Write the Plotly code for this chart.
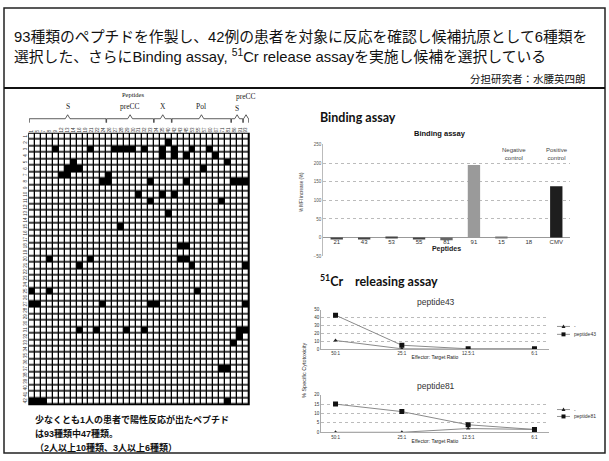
import plotly.graph_objects as go

W, H = 609, 461
def fx(x): return x / W
def fy(y): return 1 - y / H

JP = "Liberation Sans, Noto Sans CJK JP"
SANS = "Liberation Sans"

# ---------------- data ----------------
n_patients = 42
peptide_labels = ["1", "5", "7", "8", "9", "12", "13", "14", "16", "19", "21", "22", "24",
                  "26", "27", "28", "29", "30", "31", "32", "33", "34", "35",
                  "40", "42", "43", "45", "53", "55", "57", "60", "67", "71", "81",
                  "86", "91", "93"]
# patient (1-based) -> positive peptide columns (0-based)
positives = {
    2: [23],
    3: [4, 10, 14, 15, 16, 17, 19, 22, 24, 27, 30],
    4: [22, 24, 26, 31],
    5: [7, 33],
    6: [6, 7, 8, 29],
    7: [5, 6, 13],
    8: [12, 13, 20, 26, 34, 35, 36],
    10: [18, 22, 24],
    11: [20, 32],
    13: [23],
    15: [15],
    18: [25, 26],
    20: [3, 10, 25, 26],
    21: [8, 27, 36],
    25: [0, 3, 28],
    27: [0, 1, 12, 20, 21, 36],
    31: [8, 11, 16, 19, 35, 36],
    32: [35],
    33: [34],
    37: [32, 33],
    42: [0, 1, 2, 33],
}
groups = [("S", 0, 12), ("preCC", 13, 20), ("X", 21, 23), ("Pol", 24, 33), ("S", 34, 35), ("preCC", 36, 36)]

bar_peptides = ["21", "43", "53", "55", "81", "91", "15", "18", "CMV"]
bar_values = [-3, -3, 3, -3, -7, 195, 2, 0, 138]
bar_colors = ["#444", "#444", "#444", "#444", "#666", "#9a9a9a", "#777", "#777", "#1e1e1e"]

ratios = ["50:1", "25:1", "12.5:1", "6:1"]
p43_ctrl = [11, 0.5, 0, 0]
p43_pep = [43, 5, 0.5, 0.5]
p81_ctrl = [0, 0, 2, 1.5]
p81_pep = [15, 11, 4, 1.5]
legend43 = ["-", "peptide43"]
legend81 = ["-", "peptide81"]

# ---------------- build ----------------
z = [[0] * len(peptide_labels) for _ in range(n_patients)]
for r, cols in positives.items():
    for c in cols:
        z[r - 1][c] = 1

fig = go.Figure()

fig.add_trace(go.Heatmap(
    z=z, x=list(range(len(peptide_labels))), y=list(range(1, n_patients + 1)),
    colorscale=[[0, "white"], [1, "black"]], zmin=0, zmax=1, showscale=False,
    xgap=1.3, ygap=1.5, xaxis="x", yaxis="y", hoverinfo="skip"))

fig.add_trace(go.Bar(
    x=bar_peptides, y=bar_values, marker=dict(color=bar_colors, line=dict(width=0)),
    width=0.45, xaxis="x2", yaxis="y2", showlegend=False))

line_style = dict(color="#8a8a8a", width=1)
ctrl_marker = dict(symbol="triangle-up", size=4, color="#222")
pep_marker = dict(symbol="square", size=5, color="#111")
fig.add_trace(go.Scatter(x=ratios, y=p43_ctrl, name=legend43[0], mode="lines+markers",
                         line=line_style, marker=ctrl_marker, xaxis="x3", yaxis="y3", showlegend=False))
fig.add_trace(go.Scatter(x=ratios, y=p43_pep, name=legend43[1], mode="lines+markers",
                         line=line_style, marker=pep_marker, xaxis="x3", yaxis="y3", showlegend=False))
fig.add_trace(go.Scatter(x=ratios, y=p81_ctrl, name=legend81[0], mode="lines+markers",
                         line=line_style, marker=ctrl_marker, xaxis="x4", yaxis="y4", showlegend=False))
fig.add_trace(go.Scatter(x=ratios, y=p81_pep, name=legend81[1], mode="lines+markers",
                         line=line_style, marker=pep_marker, xaxis="x4", yaxis="y4", showlegend=False))

ncol = len(peptide_labels)
hm_dom_x = [fx(29), fx(249)]
hm_dom_y = [fy(407), fy(133)]

fig.update_layout(
    width=W, height=H, margin=dict(l=0, r=0, t=0, b=0),
    paper_bgcolor="white", plot_bgcolor="white", showlegend=False,
    font=dict(family=SANS, color="#222"),
    xaxis=dict(domain=hm_dom_x, anchor="y", side="top", range=[-0.5, ncol - 0.5],
               tickmode="array", tickvals=list(range(ncol)), ticktext=peptide_labels,
               tickfont=dict(size=4.5, family=SANS, color="#333"), tickangle=-90,
               ticks="", showgrid=False, zeroline=False, showline=False),
    yaxis=dict(domain=hm_dom_y, anchor="x", range=[n_patients + 0.5, 0.5],
               tickmode="array", tickvals=list(range(1, n_patients + 1)),
               tickfont=dict(size=4.5, family=SANS, color="#333"), tickangle=-90,
               ticks="", showgrid=False, zeroline=False, showline=False),
    xaxis2=dict(domain=[fx(323), fx(570)], anchor="free", position=fy(238),
                type="category", tickfont=dict(size=6, family=SANS, color="#333"),
                ticks="", showgrid=False, showline=False,
                title=dict(text="<b>Peptides</b>", font=dict(size=7, family=SANS), standoff=1)),
    yaxis2=dict(domain=[fy(257), fy(144)], anchor="x2", range=[-50, 250], dtick=50,
                tickfont=dict(size=4.5, family=SANS, color="#555"),
                showgrid=True, gridcolor="#bbb", griddash="dot", gridwidth=0.7,
                zeroline=True, zerolinecolor="#999", zerolinewidth=0.8,
                showline=True, linecolor="#bbb", linewidth=0.7),
    xaxis3=dict(domain=[fx(321), fx(549)], anchor="y3", type="category",
                tickfont=dict(size=4.5, family=SANS, color="#333"), ticks="",
                showgrid=False, showline=True, linecolor="#aaa", linewidth=0.7,
                title=dict(text="Effector: Target Ratio", font=dict(size=5, family=SANS), standoff=0)),
    yaxis3=dict(domain=[fy(351), fy(311)], anchor="x3", range=[0, 50], dtick=10,
                tickfont=dict(size=4.5, family=SANS, color="#333"),
                showgrid=True, gridcolor="#bbb", griddash="dot", gridwidth=0.7,
                zeroline=False, showline=True, linecolor="#aaa", linewidth=0.7),
    xaxis4=dict(domain=[fx(321), fx(549)], anchor="y4", type="category",
                tickfont=dict(size=4.5, family=SANS, color="#333"), ticks="",
                showgrid=False, showline=True, linecolor="#aaa", linewidth=0.7,
                title=dict(text="Effector: Target Ratio", font=dict(size=5, family=SANS), standoff=0)),
    yaxis4=dict(domain=[fy(435), fy(397)], anchor="x4", range=[0, 20], dtick=5,
                tickfont=dict(size=4.5, family=SANS, color="#333"),
                showgrid=True, gridcolor="#bbb", griddash="dot", gridwidth=0.7,
                zeroline=False, showline=True, linecolor="#aaa", linewidth=0.7),
    bargap=0.5,
)

shapes = []
# black grid background under the heatmap
shapes.append(dict(type="rect", xref="x domain", yref="y domain", x0=0, x1=1, y0=0, y1=1,
                   fillcolor="black", line=dict(color="black", width=1.5), layer="below"))
# slide frame and title rule
shapes.append(dict(type="rect", xref="paper", yref="paper", x0=fx(4), x1=fx(605), y0=fy(456), y1=fy(6),
                   line=dict(color="#222", width=1.5)))
shapes.append(dict(type="line", xref="paper", yref="paper", x0=fx(4), x1=fx(605), y0=fy(87), y1=fy(87),
                   line=dict(color="#111", width=2)))
# brackets over peptide groups
yb, ym, yt = fy(122), fy(118), fy(114)
for name, a, b in groups:
    x0, x1 = a - 0.45, b + 0.45
    xm = (x0 + x1) / 2
    d = 0.4
    path = (f"M {x0},{yb} L {x0},{ym} L {xm - d},{ym} L {xm},{yt} "
            f"L {xm + d},{ym} L {x1},{ym} L {x1},{yb}")
    shapes.append(dict(type="path", xref="x", yref="paper", path=path,
                       line=dict(color="#333", width=0.8)))

ann = []
def text(x, y, t, size, family=JP, anchor="left", color="#111", **kw):
    ann.append(dict(x=fx(x), y=fy(y), xref="paper", yref="paper", text=t, showarrow=False,
                    xanchor=anchor, yanchor="middle", font=dict(size=size, family=family, color=color), **kw))

# compact legends for the two line charts
def legend_keys(names, ys):
    for i, (nm, yy) in enumerate(zip(names, ys)):
        shapes.append(dict(type="line", xref="paper", yref="paper", x0=fx(557), x1=fx(570),
                           y0=fy(yy), y1=fy(yy), line=dict(color="#777", width=0.8)))
        if i == 0:
            p = f"M {fx(561.5)},{fy(yy + 1.5)} L {fx(565.5)},{fy(yy + 1.5)} L {fx(563.5)},{fy(yy - 2)} Z"
            shapes.append(dict(type="path", xref="paper", yref="paper", path=p,
                               fillcolor="#222", line=dict(width=0)))
        else:
            shapes.append(dict(type="rect", xref="paper", yref="paper", x0=fx(561.5), x1=fx(565.5),
                               y0=fy(yy + 2), y1=fy(yy - 2), fillcolor="#111", line=dict(width=0)))
        text(572, yy, nm, 5, family=SANS, color="#333")

legend_keys(legend43, [328, 336])
legend_keys(legend81, [412, 419])
fig.update_layout(shapes=shapes)

text(12, 35, "93種類のペプチドを作製し、42例の患者を対象に反応を確認し候補抗原として6種類を", 14.8)
text(12, 55, "選択した、さらにBinding assay, <sup>51</sup>Cr release assayを実施し候補を選択している", 14.8)
text(588, 78, "分担研究者：水腰英四朗", 10.5, anchor="right")

text(33, 422, "<b>少なくとも1人の患者で陽性反応が出たペプチド</b>", 9)
text(33, 436, "<b>は93種類中47種類。</b>", 9)
text(33, 450, "<b>（2人以上10種類、3人以上6種類）</b>", 9)

# heatmap headers
text(133, 94, "Peptides", 6.5, family="Liberation Serif", anchor="center")
for name, a, b in groups:
    cx = (a + b) / 2
    yy = 96 if (name == "preCC" and a == b) else (108 if name == "S" and a > 30 else 106)
    ann.append(dict(x=cx, y=fy(yy), xref="x", yref="paper", text=name, showarrow=False,
                    xanchor="center", yanchor="middle",
                    font=dict(size=7.5, family="Liberation Serif", color="#222")))

# right panel headings
text(318, 117, "<b>Binding assay</b>", 12.5, family="Lato")
text(318, 282, "<b><sup>51</sup>Cr\u00a0\u00a0\u00a0\u00a0releasing assay</b>", 12.5, family="Lato")
text(440, 133, "<b>Binding assay</b>", 7.5, family=SANS, anchor="center")
text(514, 154, "Negative<br>control", 6, family=SANS, anchor="center", color="#444")
text(557, 154, "Positive<br>control", 6, family=SANS, anchor="center", color="#444")
ann.append(dict(x=fx(302), y=fy(192), xref="paper", yref="paper", text="% MFI increase (%)",
                showarrow=False, textangle=-90, xanchor="center", yanchor="middle",
                font=dict(size=4.5, family=SANS, color="#333")))
text(436, 303, "peptide43", 8.5, family=SANS, anchor="center", color="#333")
text(436, 388, "peptide81", 8.5, family=SANS, anchor="center", color="#333")
ann.append(dict(x=fx(304), y=fy(372), xref="paper", yref="paper", text="% Specific Cytotoxicity",
                showarrow=False, textangle=-90, xanchor="center", yanchor="middle",
                font=dict(size=5.5, family=SANS, color="#333")))
fig.update_layout(annotations=ann)

fig.write_html("out.html", config={"displayModeBar": False},
               post_script="document.body.style.margin='0';")
